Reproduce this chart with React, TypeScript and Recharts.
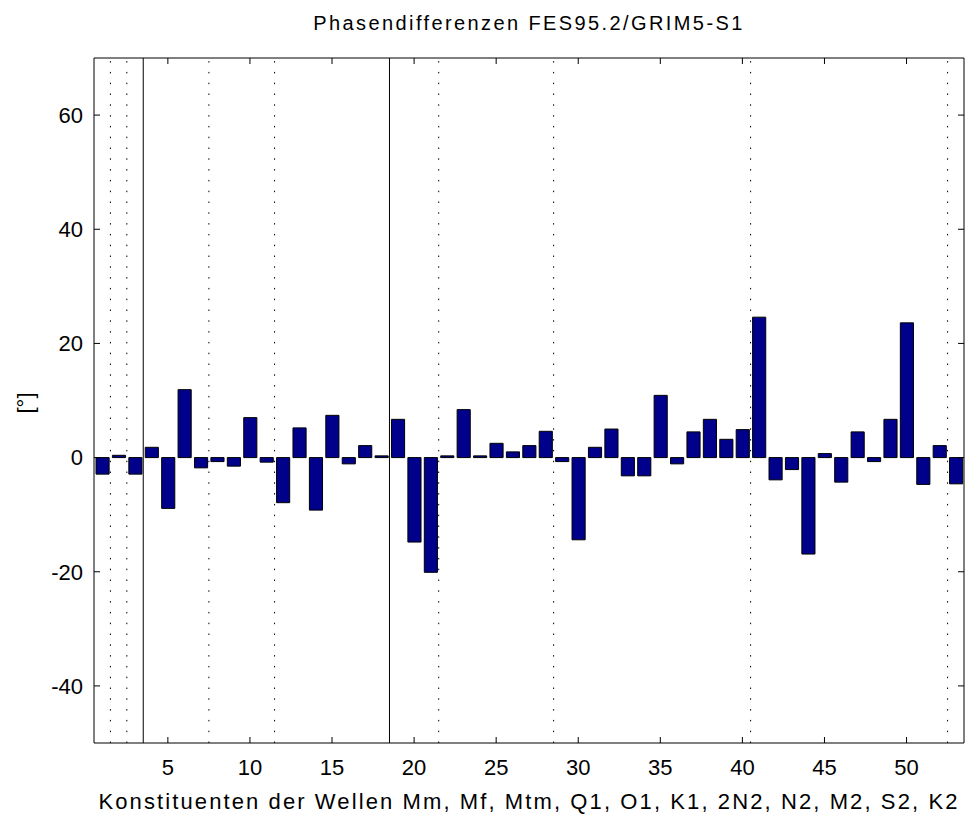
import React from 'react';
import { BarChart, Bar, XAxis, YAxis, ReferenceLine } from 'recharts';

// Phasendifferenzen je Konstituent (1..53), in Grad
const phaseDiff = [
  -2.9, 0.4, -2.9, 1.8, -8.9, 11.9, -1.8, -0.7, -1.5, 7.0,
  -0.8, -7.9, 5.2, -9.2, 7.4, -1.1, 2.1, 0.3, 6.7, -14.8,
  -20.1, 0.3, 8.4, 0.3, 2.5, 1.0, 2.1, 4.6, -0.7, -14.4,
  1.8, 5.0, -3.2, -3.2, 10.9, -1.1, 4.5, 6.7, 3.2, 4.9,
  24.6, -3.9, -2.1, -16.9, 0.7, -4.3, 4.5, -0.7, 6.7, 23.6,
  -4.7, 2.1, -4.6,
];

// Gruppengrenzen (Wellen)
const solidBounds = [3.5, 18.5];
const dottedBounds = [1.5, 2.5, 7.5, 11.5, 21.5, 28.5, 40.5, 52.5];

const xTicks = [5, 10, 15, 20, 25, 30, 35, 40, 45, 50];
const yTicks = [-40, -20, 0, 20, 40, 60];
const xDomain: [number, number] = [0.5, 53.5];
const yDomain: [number, number] = [-50, 70];

const data = phaseDiff.map((v, i) => ({ k: i + 1, v }));

const W = 966;
const H = 815;
const LEFT = 94;
const RIGHT = 2;
const TOP = 58;
const BOTTOM = 72;
const TICK = 6;
const plotW = W - LEFT - RIGHT;
const barSize = (plotW / (xDomain[1] - xDomain[0])) * 0.8;

const font = '"Liberation Sans", Arial, sans-serif';
const lineStyle = { stroke: '#000', strokeWidth: 1 };

// MATLAB-style ticks: drawn inward, on all four sides
function LeftTick({ x, y, payload }: any) {
  return (
    <g>
      <line x1={x} y1={y} x2={x + TICK} y2={y} stroke="#000" />
      <text x={x - 11} y={y} dy="0.355em" textAnchor="end" fill="#000" fontSize={22} fontFamily={font}>
        {payload.value}
      </text>
    </g>
  );
}
function RightTick({ x, y }: any) {
  return <line x1={x - TICK} y1={y} x2={x} y2={y} stroke="#000" />;
}
function BottomTick({ x, y, payload }: any) {
  return (
    <g>
      <line x1={x} y1={y} x2={x} y2={y - TICK} stroke="#000" />
      <text x={x} y={y + 32} textAnchor="middle" fill="#000" fontSize={22} fontFamily={font}>
        {payload.value}
      </text>
    </g>
  );
}
function TopTick({ x, y }: any) {
  return <line x1={x} y1={y} x2={x} y2={y + TICK} stroke="#000" />;
}

export default function App() {
  return (
    <div style={{ position: 'absolute', left: 0, top: 0, width: W, height: H, background: '#fff', fontFamily: font }}>
      <BarChart width={W} height={H} data={data} margin={{ top: 0, right: 0, bottom: 0, left: 0 }}>
        <XAxis
          type="number"
          dataKey="k"
          domain={xDomain}
          ticks={xTicks}
          interval={0}
          height={BOTTOM}
          tick={<BottomTick />}
          tickSize={0}
          tickMargin={0}
          axisLine={lineStyle}
          tickLine={false}
          allowDataOverflow
        />
        <XAxis
          xAxisId="top"
          orientation="top"
          type="number"
          dataKey="k"
          domain={xDomain}
          ticks={xTicks}
          interval={0}
          height={TOP}
          tick={<TopTick />}
          tickSize={0}
          tickMargin={0}
          axisLine={lineStyle}
          tickLine={false}
          allowDataOverflow
        />
        <YAxis
          type="number"
          domain={yDomain}
          ticks={yTicks}
          interval={0}
          width={LEFT}
          tick={<LeftTick />}
          tickSize={0}
          tickMargin={0}
          axisLine={lineStyle}
          tickLine={false}
          allowDataOverflow
        />
        <YAxis
          yAxisId="right"
          orientation="right"
          type="number"
          domain={yDomain}
          ticks={yTicks}
          interval={0}
          width={RIGHT}
          tick={<RightTick />}
          tickSize={0}
          tickMargin={0}
          axisLine={lineStyle}
          tickLine={false}
          allowDataOverflow
        />
        {dottedBounds.map((b) => (
          <ReferenceLine key={'d' + b} x={b} stroke="#000" strokeDasharray="1.5 9.3" />
        ))}
        {solidBounds.map((b) => (
          <ReferenceLine key={'s' + b} x={b} stroke="#000" />
        ))}
        <Bar dataKey="v" fill="#00008B" stroke="#000" strokeWidth={1} barSize={barSize} isAnimationActive={false} />
      </BarChart>
      <div
        style={{
          position: 'absolute', left: LEFT, width: plotW, top: 13, textAlign: 'center',
          fontSize: 20, lineHeight: '20px', letterSpacing: 2.4, color: '#000', whiteSpace: 'nowrap',
        }}
      >
        Phasendifferenzen FES95.2/GRIM5-S1
      </div>
      <div
        style={{
          position: 'absolute', left: LEFT, width: plotW, top: 791, textAlign: 'center',
          fontSize: 22, lineHeight: '22px', letterSpacing: 2.1, color: '#000', whiteSpace: 'nowrap',
        }}
      >
        Konstituenten der Wellen Mm, Mf, Mtm, Q1, O1, K1, 2N2, N2, M2, S2, K2
      </div>
      <div
        style={{
          position: 'absolute', left: 26, top: 403, transform: 'translate(-50%, -50%) rotate(-90deg)',
          fontSize: 22, lineHeight: '22px', color: '#000', whiteSpace: 'nowrap',
        }}
      >
        [°]
      </div>
    </div>
  );
}
